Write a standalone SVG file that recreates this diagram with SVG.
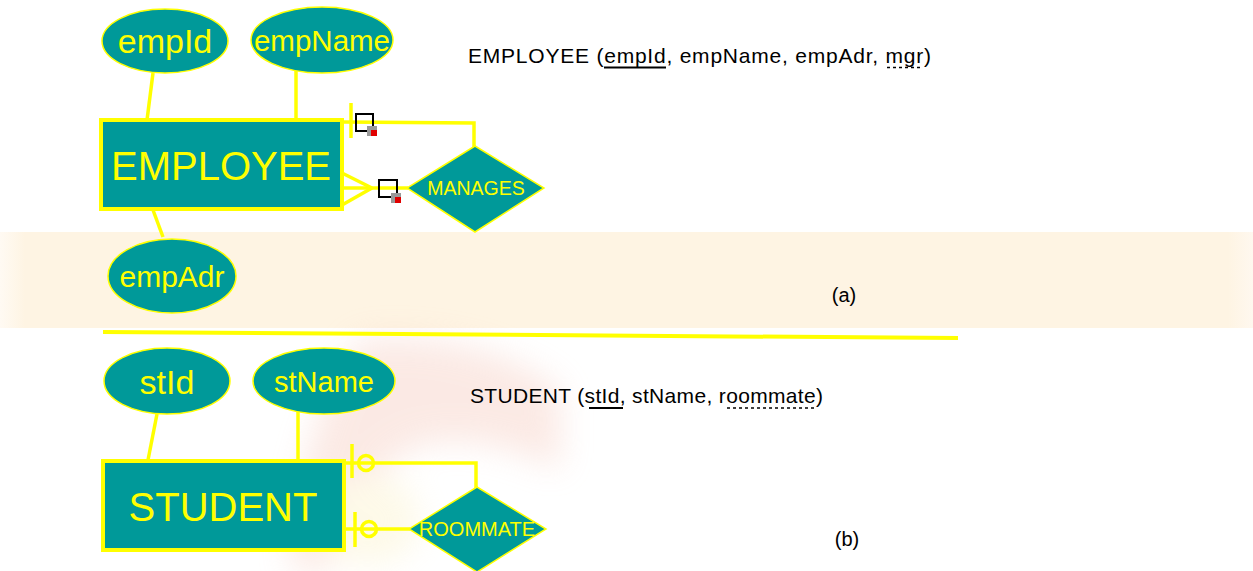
<svg xmlns="http://www.w3.org/2000/svg" width="1253" height="571" viewBox="0 0 1253 571">
<style>
.attr{fill:#009999;stroke:#ffff00;stroke-width:1.5}
.ent{fill:#009999;stroke:#ffff00;stroke-width:4}
.rel{fill:#009999;stroke:#ffff00;stroke-width:1.5}
.yt{fill:#ffff00;font-family:"Liberation Sans",Arial,sans-serif;text-anchor:middle}
.bt{fill:#000;font-family:"Liberation Sans",Arial,sans-serif}
.ln{stroke:#ffff00;stroke-width:3.5;fill:none}
.icon{fill:none;stroke:#000;stroke-width:2}
</style>
<defs>
<linearGradient id="band" x1="0" y1="0" x2="1" y2="0">
<stop offset="0" stop-color="#fffaf3"/>
<stop offset="0.02" stop-color="#fef4e3"/>
<stop offset="0.98" stop-color="#fef4e3"/>
<stop offset="1" stop-color="#fff8ef"/>
</linearGradient>
<filter id="blur" x="-50%" y="-50%" width="200%" height="200%"><feGaussianBlur stdDeviation="16"/></filter>
</defs>
<rect width="1253" height="571" fill="#ffffff"/>
<rect x="0" y="232" width="1253" height="96" fill="url(#band)"/>
<g filter="url(#blur)" opacity="0.35">
<path d="M360 340 Q480 330 560 390 L560 470 Q480 430 420 445 Q360 470 330 571 L290 571 Q300 420 360 340 Z" fill="#f4c2b4"/>
<ellipse cx="370" cy="520" rx="50" ry="45" fill="#fbf0c0"/>
</g>
<g id="connectors">
<line class="ln" x1="153" y1="73" x2="147" y2="120"/>
<line class="ln" x1="296" y1="68" x2="296" y2="120"/>
<line class="ln" x1="153" y1="210" x2="163" y2="237"/>
<polyline class="ln" points="342,122 474,123 474,147"/>
<line class="ln" x1="351" y1="103" x2="351" y2="138"/>
<line class="ln" x1="342" y1="188" x2="408" y2="188"/>
<line class="ln" x1="342" y1="173" x2="372" y2="188"/>
<line class="ln" x1="342" y1="205" x2="372" y2="188"/>
<line stroke="#ffff00" stroke-width="4" x1="103" y1="332" x2="958" y2="338"/>
<line class="ln" x1="157" y1="414" x2="148" y2="460"/>
<line class="ln" x1="298" y1="408" x2="298" y2="460"/>
<polyline class="ln" points="344,463 476,463 476,488"/>
<line class="ln" x1="352" y1="444" x2="352" y2="478"/>
<circle class="ln" cx="366" cy="463" r="7.5"/>
<line class="ln" x1="344" y1="529" x2="410" y2="529"/>
<line class="ln" x1="355" y1="512" x2="355" y2="547"/>
<circle class="ln" cx="369" cy="529" r="7.5"/>
</g>
<g id="icons">
<rect class="icon" x="356" y="114" width="17" height="17"/>
<rect x="367" y="126" width="10" height="10" fill="#999"/>
<rect x="371" y="130" width="6" height="6" fill="#e00000"/>
<rect class="icon" x="379" y="180" width="18" height="17"/>
<rect x="391" y="193" width="10" height="10" fill="#999"/>
<rect x="395" y="197" width="6" height="6" fill="#e00000"/>
</g>
<g id="empId"><ellipse class="attr" cx="165" cy="41" rx="63" ry="32"/><text class="yt" x="165" y="53" font-size="34">empId</text></g>
<g id="empName"><ellipse class="attr" cx="322" cy="40" rx="71" ry="33"/><text class="yt" x="322" y="51" font-size="29.5">empName</text></g>
<g id="employee"><rect class="ent" x="101" y="120" width="241" height="89"/><text class="yt" x="221" y="180" font-size="40">EMPLOYEE</text></g>
<g id="empAdr"><ellipse class="attr" cx="172" cy="276" rx="64" ry="37"/><text class="yt" x="172" y="287" font-size="30">empAdr</text></g>
<g id="manages"><polygon class="rel" points="475,146 544,188 475,232 407,188"/><text class="yt" x="476" y="195" font-size="19.5">MANAGES</text></g>
<g id="stId"><ellipse class="attr" cx="167" cy="381" rx="63" ry="33"/><text class="yt" x="167" y="394" font-size="34">stId</text></g>
<g id="stName"><ellipse class="attr" cx="324" cy="381" rx="71" ry="33"/><text class="yt" x="324" y="392" font-size="29">stName</text></g>
<g id="student"><rect class="ent" x="103" y="461" width="241" height="89"/><text class="yt" x="223" y="521" font-size="40">STUDENT</text></g>
<g id="roommate"><polygon class="rel" points="477,487 546,529 477,572 409,529"/><text class="yt" x="477" y="536" font-size="20">ROOMMATE</text></g>
<g id="schemas">
<text class="bt" x="468" y="63" font-size="21" textLength="463" lengthAdjust="spacing">EMPLOYEE (empId, empName, empAdr, mgr)</text>
<line x1="604" y1="67.5" x2="666" y2="67.5" stroke="#000" stroke-width="2"/>
<line x1="887" y1="67.5" x2="923" y2="67.5" stroke="#000" stroke-width="1.5" stroke-dasharray="3,3"/>
<text class="bt" x="470" y="403" font-size="21" textLength="353" lengthAdjust="spacing">STUDENT (stId, stName, roommate)</text>
<line x1="589" y1="408" x2="623" y2="408" stroke="#000" stroke-width="2"/>
<line x1="727" y1="408" x2="815" y2="408" stroke="#000" stroke-width="1.5" stroke-dasharray="3,3"/>
<text class="bt" x="844" y="302" font-size="20" text-anchor="middle">(a)</text>
<text class="bt" x="847" y="546" font-size="20" text-anchor="middle">(b)</text>
</g>
</svg>
